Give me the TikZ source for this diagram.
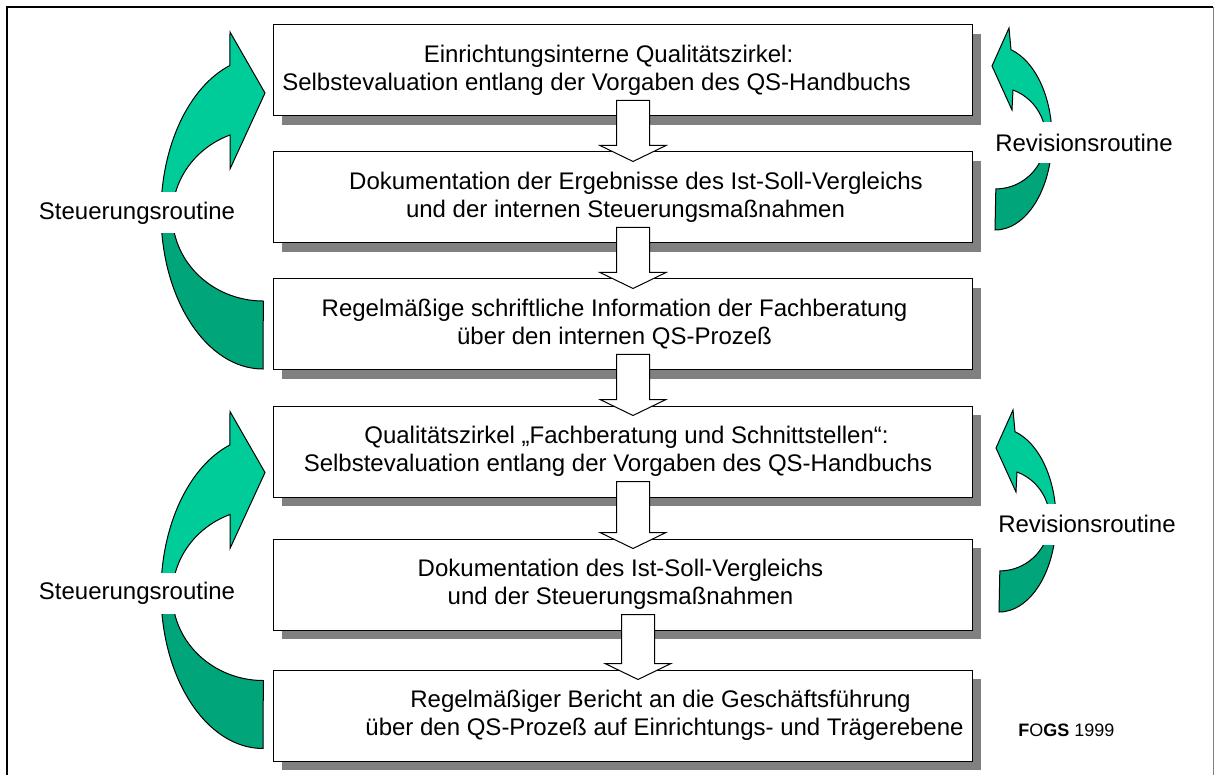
\documentclass[tikz,border=0pt]{standalone}
\usepackage{fontspec}
\setmainfont{Liberation Sans}
\usetikzlibrary{calc,shadows}

\definecolor{loopgreen}{RGB}{0,204,153}
\definecolor{loopdark}{RGB}{0,166,122}
\definecolor{shadowgray}{RGB}{128,128,128}

% nudge a centred line: \nudge{d} before the text moves it d px right, after it d px left
\newcommand{\nudge}[1]{\hspace*{#1pt}}

% outline of the curved loop arrows, origin at the centre of the arc
\newcommand{\steerpath}{(0,156) arc[start angle=90, end angle=251.1, x radius=102, y radius=156]
  -- (-33,-181) -- (2,-120) -- (-33,-44) -- (-33,-78)
  arc[start angle=248.5, end angle=90, x radius=91, y radius=86] -- cycle}
\newcommand{\revpath}{(0,92) arc[start angle=90, end angle=-73.7, x radius=57, y radius=92]
  -- (14,-110) -- (-3,-72) -- (17,-28) -- (18,-48)
  arc[start angle=-69.9, end angle=90, x radius=50, y radius=51] -- cycle}

% hollow block arrow from one box down to the next
\newcommand{\flowarrow}[3]{%
  \coordinate (fa-s) at ($(#1.south)+(#3,-16)$);
  \coordinate (fa-e) at ($(#2.north)+(#3,10)$);
  \filldraw[hollow] ($(fa-s)+(-16.5,0)$) -- ($(fa-s)+(16.5,0)$) -- ($(fa-e)+(16.5,-16)$)
    -- ($(fa-e)+(33,-16)$) -- (fa-e) -- ($(fa-e)+(-33,-16)$) -- ($(fa-e)+(-16.5,-16)$) -- cycle;}

\tikzset{
  steerloop/.pic={
    \begin{scope}
      \clip (-130,-200) rectangle (30,0);
      \filldraw[loopfront] \steerpath;
    \end{scope}
    \begin{scope}
      \clip (-130,0) rectangle (30,200);
      \filldraw[loopback] \steerpath;
    \end{scope}},
  revloop/.pic={
    \begin{scope}
      \clip (-30,-130) rectangle (80,5);
      \filldraw[loopfront] \revpath;
    \end{scope}
    \begin{scope}
      \clip (-30,5) rectangle (80,120);
      \filldraw[loopback] \revpath;
    \end{scope}}
}

\begin{document}
\begin{tikzpicture}[x=0.5pt,y=-0.5pt,
    qsbox/.style={draw, line width=0.5pt, fill=white, minimum width=349.5pt, minimum height=45.5pt,
      inner xsep=1pt, align=center, font=\fontsize{12}{14}\selectfont,
      drop shadow={shadow xshift=4.5pt, shadow yshift=-4.5pt, fill=shadowgray, opacity=1}},
    hollow/.style={draw, line width=0.5pt, fill=white},
    loopfront/.style={draw, line width=0.5pt, fill=loopgreen},
    loopback/.style={draw, line width=0.5pt, fill=loopdark},
    looptext/.style={fill=white, inner xsep=1pt, inner ysep=0pt, minimum height=20.5pt,
      font=\fontsize{12}{14}\selectfont}]
    \useasboundingbox (0,0) rectangle (1216,775);

    % frame
    \draw[line width=1pt] (7,775) -- (7,7) -- (1213,7);
    \draw[shadowgray, line width=0.5pt] (1213,7) -- (1213,775);

    % loops
    \pic at (263,213) {steerloop};
    \pic at (263,592.5) {steerloop};
    \pic at (995,138) {revloop};
    \pic at (999,520) {revloop};
    \node[looptext] (steer1) at (137,213) {Steuerungsroutine};
    \node[looptext] (steer2) at (137,593) {Steuerungsroutine};
    \node[looptext] (rev1) at (1084,143) {Revisionsroutine};
    \node[looptext] (rev2) at (1087,524) {Revisionsroutine};

    % boxes
    \node[qsbox] (zirkel) at (622.5,70.5) {Einrichtungsinterne Qualitätszirkel:\nudge{14}\\Selbstevaluation entlang der Vorgaben des QS-Handbuchs\nudge{26}};
    \node[qsbox] (ergebnis) at (622.5,197.5) {\nudge{13.5}Dokumentation der Ergebnisse des Ist-Soll-Vergleichs\\\nudge{3}und der internen Steuerungsmaßnahmen};
    \node[qsbox] (info) at (622.5,324.5) {Regelmäßige schriftliche Information der Fachberatung\nudge{8}\\über den internen QS-Prozeß\nudge{8}};
    \node[qsbox] (fzirkel) at (622.5,451.5) {\nudge{4}Qualitätszirkel „Fachberatung und Schnittstellen“:\\Selbstevaluation entlang der Vorgaben des QS-Handbuchs\nudge{4.5}};
    \node[qsbox] (vergleich) at (622.5,584.5) {Dokumentation des Ist-Soll-Vergleichs\nudge{2}\\und der Steuerungsmaßnahmen\nudge{2}};
    \node[qsbox] (bericht) at (622.5,715.5) {\nudge{38}Regelmäßiger Bericht an die Geschäftsführung\\\nudge{42}über den QS-Prozeß auf Einrichtungs- und Trägerebene};

    % arrows between the boxes
    \flowarrow{zirkel}{ergebnis}{10.5}
    \flowarrow{ergebnis}{info}{10.5}
    \flowarrow{info}{fzirkel}{10.5}
    \flowarrow{fzirkel}{vergleich}{10.5}
    \flowarrow{vergleich}{bericht}{15.5}

    \node[font=\fontsize{9}{11}\selectfont, anchor=west, inner sep=0pt] (fogs) at (1018,730) {\textbf{F}O\textbf{GS} 1999};
\end{tikzpicture}
\end{document}
